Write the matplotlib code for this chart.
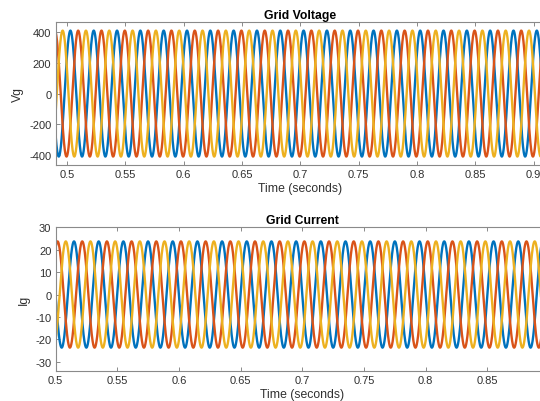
import numpy as np
import matplotlib
matplotlib.use("Agg")
import matplotlib.pyplot as plt

# ---- data ----
freq_hz = 50.0                      # grid frequency
t_ref = 0.5                         # phase reference time (s)
phase_names = ["a", "b", "c"]
vg_amplitude = 410.0                # peak grid voltage
vg_phase_deg = [40.0, -80.0, 160.0]   # phase of each voltage at t_ref (sine)
ig_amplitude = 23.7                 # peak grid current
ig_phase_deg = [180.0, 60.0, -60.0]   # phase of each current at t_ref (sine)

vg_xlim = [0.49, 0.91]
vg_ylim = [-465, 468]
vg_yticks = [-400, -200, 0, 200, 400]
vg_xticks = [0.5, 0.55, 0.6, 0.65, 0.7, 0.75, 0.8, 0.85, 0.9]
vg_xticklabels = ["0.5", "0.55", "0.6", "0.65", "0.7", "0.75", "0.8", "0.85", "0.9"]
ig_xlim = [0.5, 0.9]
ig_ylim = [-34, 30]
ig_yticks = [-30, -20, -10, 0, 10, 20, 30]
ig_xticks = [0.5, 0.55, 0.6, 0.65, 0.7, 0.75, 0.8, 0.85]
ig_xticklabels = ["0.5", "0.55", "0.6", "0.65", "0.7", "0.75", "0.8", "0.85"]

colors = ["#0072BD", "#D95319", "#EDB120"]

plt.rcParams["font.family"] = ["Liberation Sans", "DejaVu Sans"]
plt.rcParams["axes.unicode_minus"] = False

fig = plt.figure(figsize=(5.4, 4.02), dpi=100)
W, H = 540.0, 402.0

def make_ax(left_px, top_px, bottom_px, xlim, px_per_s):
    width_px = (xlim[1] - xlim[0]) * px_per_s
    return fig.add_axes([left_px / W, 1 - bottom_px / H, width_px / W, (bottom_px - top_px) / H])

ax1 = make_ax(55.5, 22.7, 166.0, vg_xlim, 1166.0)
ax2 = make_ax(55.5, 228.3, 371.7, ig_xlim, 1234.0)

t_v = np.arange(0.48, 0.92, 1e-5)
t_i = np.arange(0.49, 0.91, 1e-5)
w = 2 * np.pi * freq_hz
for k in range(3):
    ax1.plot(t_v, vg_amplitude * np.sin(w * (t_v - t_ref) + np.deg2rad(vg_phase_deg[k])),
             color=colors[k], lw=1.7)
    ax2.plot(t_i, ig_amplitude * np.sin(w * (t_i - t_ref) + np.deg2rad(ig_phase_deg[k])),
             color=colors[k], lw=1.7)

spine_col = "#8a8a8a"
text_col = "#303030"
for ax, xlim, ylim, yt, xt, xtl, title, ylab in [
        (ax1, vg_xlim, vg_ylim, vg_yticks, vg_xticks, vg_xticklabels, "Grid Voltage", "Vg"),
        (ax2, ig_xlim, ig_ylim, ig_yticks, ig_xticks, ig_xticklabels, "Grid Current", "Ig")]:
    ax.set_xlim(xlim)
    ax.set_ylim(ylim)
    ax.set_xticks(xt)
    ax.set_xticklabels(xtl)
    ax.set_yticks(yt)
    ax.tick_params(direction="in", length=3, width=0.7, color=spine_col,
                   labelsize=8, labelcolor=text_col, pad=3,
                   top=True, right=True)
    for s in ax.spines.values():
        s.set_color(spine_col)
        s.set_linewidth(0.8)
    ax.set_title(title, fontsize=8.8, fontweight="bold", color="black", pad=3)
    ax.set_xlabel("Time (seconds)", fontsize=8.8, color=text_col, labelpad=2)
    ax.set_ylabel(ylab, fontsize=8.8, color=text_col, labelpad=4)

fig.savefig("out.png", dpi=100)
